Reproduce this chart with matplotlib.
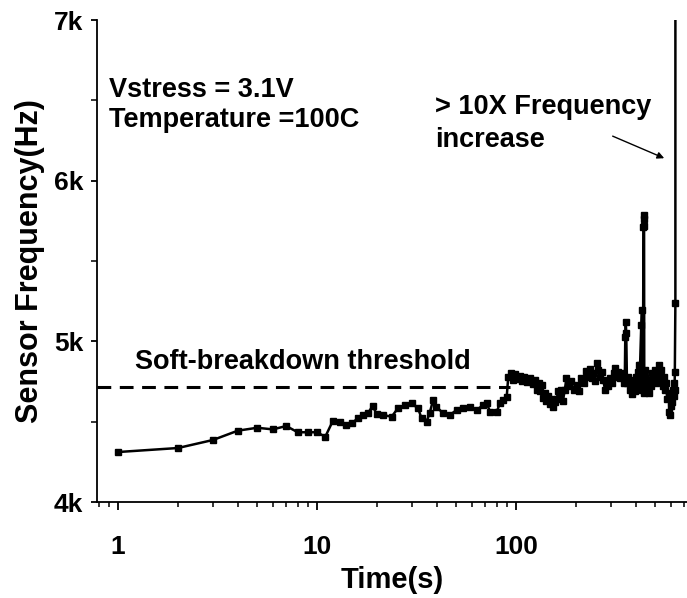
import matplotlib
matplotlib.use("Agg")
import matplotlib.pyplot as plt
from matplotlib.ticker import LogLocator, FixedLocator, NullFormatter

plt.rcParams['font.family'] = ['Liberation Sans', 'DejaVu Sans']
plt.rcParams['font.weight'] = 'bold'

# time (s) and sensor frequency (Hz)
time_s = [1, 2, 3, 4, 5, 6, 7, 8, 9, 10, 11, 12, 13, 14, 15, 16, 17, 18, 19, 20,
          21.5, 23.7, 25.5, 27.6, 29.9, 32.2, 33.5, 35.5, 36.8, 38.3, 39.8, 43, 46.5,
          50.3, 54.4, 58.7, 63.5, 68.6, 71.3, 74, 80, 83, 86.5, 89.8,
          91.4, 94, 96, 99, 101, 104.5, 107, 110, 113, 117, 122, 125, 127, 130,
          132, 135, 137, 140, 142, 145, 148, 151, 154, 157, 160, 163, 166, 169,
          172, 176, 179, 184, 189, 195, 202, 207, 213, 219, 226, 231, 236, 240,
          245, 250, 254, 259, 264, 269, 274, 280, 286, 291, 297, 303, 309, 315,
          320, 327, 334, 341, 348, 352, 354, 356, 358, 361, 366, 372, 377, 383,
          389, 395, 400, 405, 410, 414, 418, 420, 425, 428, 431, 434, 437, 438,
          439, 440, 441, 444, 447, 452, 458, 465, 471, 478, 485, 492, 500, 507,
          515, 522, 530, 538, 545, 552, 560, 568, 576, 585, 590, 596, 601, 605,
          610, 615, 619, 622, 626, 628, 632, 636]
freq_hz = [4311, 4336, 4386, 4444, 4462, 4452, 4473, 4434, 4434, 4434, 4406, 4504,
           4500, 4479, 4490, 4521, 4541, 4551, 4597, 4546,
           4541, 4531, 4583, 4604, 4614, 4583, 4521, 4500, 4552, 4635, 4593, 4552,
           4541, 4573, 4583, 4593, 4573, 4604, 4614, 4562, 4562, 4614, 4635, 4656,
           4780, 4800, 4760, 4795, 4765, 4785, 4750, 4775, 4745, 4770, 4735, 4760,
           4700, 4740, 4690, 4730, 4650, 4680, 4630, 4660, 4610, 4640, 4590, 4620,
           4640, 4690, 4660, 4700, 4630, 4700, 4770, 4720, 4750, 4700, 4730, 4690,
           4770, 4740, 4815, 4780, 4825, 4770, 4800, 4750, 4865, 4820, 4780, 4810,
           4760, 4700, 4750, 4720, 4770, 4740, 4800, 4835, 4780, 4810, 4770, 4800,
           4740, 4760, 5030, 5122, 5050, 4738, 4780, 4700, 4760, 4670, 4740, 4690,
           4780, 4730, 4810, 4852, 4760, 4852, 5100, 5195, 4700, 4760, 5711, 5786,
           5760, 5720, 4680, 4780, 4821, 4700, 4760, 4680, 4760, 4720, 4800, 4760,
           4820, 4740, 4800, 4852, 4760, 4820, 4720, 4780, 4700, 4740, 4640, 4680,
           4560, 4541, 4600, 4660, 4620, 4700, 4660, 4738, 4700, 4811, 5236, 50000]

threshold_hz = 4717
threshold_end_s = 93

fig = plt.figure(figsize=(6.87, 5.98), dpi=100)
ax = fig.add_axes([97 / 687, 96 / 598, 590 / 687, 482 / 598])

ax.plot(time_s, freq_hz, color='black', lw=1.8, marker='s', ms=4.8)
ax.plot([0.784, threshold_end_s], [threshold_hz, threshold_hz], color='black',
        lw=2.2, ls=(0, (4.5, 2.8)))

ax.set_xscale('log')
ax.set_xlim(0.784, 723)
ax.set_ylim(4000, 7000)

ax.spines['top'].set_visible(False)
ax.spines['right'].set_visible(False)
for s in ('left', 'bottom'):
    ax.spines[s].set_linewidth(1.3)

ax.xaxis.set_major_locator(FixedLocator([1, 10, 100]))
ax.xaxis.set_minor_locator(LogLocator(base=10, subs=range(2, 10)))
ax.xaxis.set_minor_formatter(NullFormatter())
ax.set_xticklabels(['1', '10', '100'])
ax.set_yticks([4000, 5000, 6000, 7000])
ax.set_yticklabels(['4k', '5k', '6k', '7k'])
ax.yaxis.set_minor_locator(FixedLocator([4500, 5500, 6500]))

ax.tick_params(axis='x', which='major', direction='out', length=6, width=1.3,
               labelsize=19, pad=18)
ax.tick_params(axis='x', which='minor', direction='out', length=3.5, width=1.1)
ax.tick_params(axis='y', which='major', direction='out', length=4, width=1.3,
               labelsize=19, pad=6)
ax.tick_params(axis='y', which='minor', direction='out', length=4, width=1.1)

ax.set_xlabel('Time(s)', fontsize=21, fontweight='bold', labelpad=5)
ax.set_ylabel('Sensor Frequency(Hz)', fontsize=22, fontweight='bold', labelpad=6)

ax.text(0.02, 0.841, 'Vstress = 3.1V', transform=ax.transAxes, fontsize=19.5,
        fontweight='bold', va='baseline')
ax.text(0.02, 0.778, 'Temperature =100C', transform=ax.transAxes, fontsize=19.5,
        fontweight='bold', va='baseline')
ax.text(0.573, 0.806, '> 10X Frequency', transform=ax.transAxes, fontsize=19.5,
        fontweight='bold', va='baseline')
ax.text(0.573, 0.737, 'increase', transform=ax.transAxes, fontsize=19.5,
        fontweight='bold', va='baseline')
ax.text(0.064, 0.276, 'Soft-breakdown threshold', transform=ax.transAxes,
        fontsize=19.5, fontweight='bold', va='baseline')

ax.annotate('', xy=(572, 6133), xytext=(297, 6284),
            arrowprops=dict(arrowstyle='-|>', color='black', lw=1.0,
                            mutation_scale=10))

fig.savefig('out.png', dpi=100)
